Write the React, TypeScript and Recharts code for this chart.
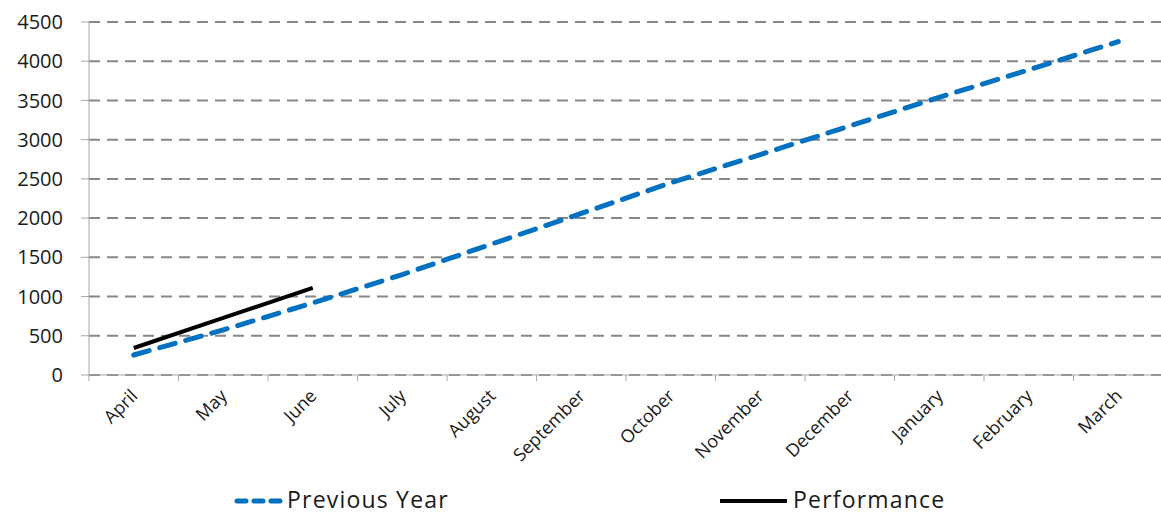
import { LineChart, Line, XAxis, YAxis, CartesianGrid, Legend } from 'recharts'

const months = [
  'April', 'May', 'June', 'July', 'August', 'September',
  'October', 'November', 'December', 'January', 'February', 'March',
]
const previousYear = [255, 575, 918, 1280, 1670, 2060, 2450, 2810, 3175, 3540, 3890, 4250]
const performance: (number | null)[] = [344, 727, 1110, null, null, null, null, null, null, null, null, null]
const yTicks = [0, 500, 1000, 1500, 2000, 2500, 3000, 3500, 4000, 4500]

const data = months.map((m, i) => ({ month: m, prev: previousYear[i], perf: performance[i] }))

const FONT = '"Open Sans", "DejaVu Sans", sans-serif'
const BLUE = '#0070C0'
const AXIS = '#a6a6a6'
const HALF_BAND = 44.75

// label at the band centre, tick marks on the band edges (Excel style)
function MonthTick({ x, y, payload, index }: any) {
  const tx = x + 5
  const ty = y + 22
  const last = index === months.length - 1
  return (
    <g>
      <line x1={x - HALF_BAND} y1={y} x2={x - HALF_BAND} y2={y + 6} stroke={AXIS} />
      {last && <line x1={x + HALF_BAND} y1={y} x2={x + HALF_BAND} y2={y + 6} stroke={AXIS} />}
      <text
        x={tx}
        y={ty}
        textAnchor="end"
        fontFamily={FONT}
        fontSize={18}
        fill="#1a1a1a"
        transform={`rotate(-45, ${tx}, ${ty})`}
      >
        {payload.value}
      </text>
    </g>
  )
}

function LegendBox() {
  return (
    <svg width={1161} height={30} style={{ display: 'block', overflow: 'visible' }}>
      <line x1={237} y1={17} x2={280} y2={17} stroke={BLUE} strokeWidth={5}
        strokeDasharray="9 8" strokeLinecap="round" />
      <text x={287} y={24} fontFamily={FONT} fontSize={23} letterSpacing={1.2} fill="#1a1a1a">Previous Year</text>
      <line x1={720} y1={17} x2={787} y2={17} stroke="#000" strokeWidth={4} />
      <text x={793} y={24} fontFamily={FONT} fontSize={23} letterSpacing={1.2} fill="#1a1a1a">Performance</text>
    </svg>
  )
}

export default function App() {
  return (
    <div style={{ position: 'absolute', left: 0, top: 0, width: 1161, height: 515, overflow: 'hidden', background: '#fff' }}>
      <LineChart width={1166} height={515} data={data} margin={{ top: 22, right: 3, bottom: 10, left: 0 }}>
        <CartesianGrid horizontal vertical={false} stroke="#878787" strokeWidth={2} strokeDasharray="11 7" />
        <XAxis dataKey="month" interval={0} tick={<MonthTick />} tickLine={false} tickSize={0}
          tickMargin={0} stroke={AXIS} height={100} padding={{ left: HALF_BAND, right: HALF_BAND }} />
        <YAxis domain={[0, 4500]} ticks={yTicks} width={89} tickSize={8} tickMargin={18}
          stroke={AXIS} interval={0}
          tick={{ fontFamily: FONT, fontSize: 20, fill: '#1a1a1a' }} />
        <Legend verticalAlign="bottom" content={<LegendBox />}
          wrapperStyle={{ left: 0, top: 484, width: 1161 }} />
        <Line dataKey="prev" name="Previous Year" stroke={BLUE} strokeWidth={5}
          strokeDasharray="16 11" strokeLinecap="round" dot={false} isAnimationActive={false} />
        <Line dataKey="perf" name="Performance" stroke="#000" strokeWidth={4}
          dot={false} isAnimationActive={false} />
      </LineChart>
    </div>
  )
}
